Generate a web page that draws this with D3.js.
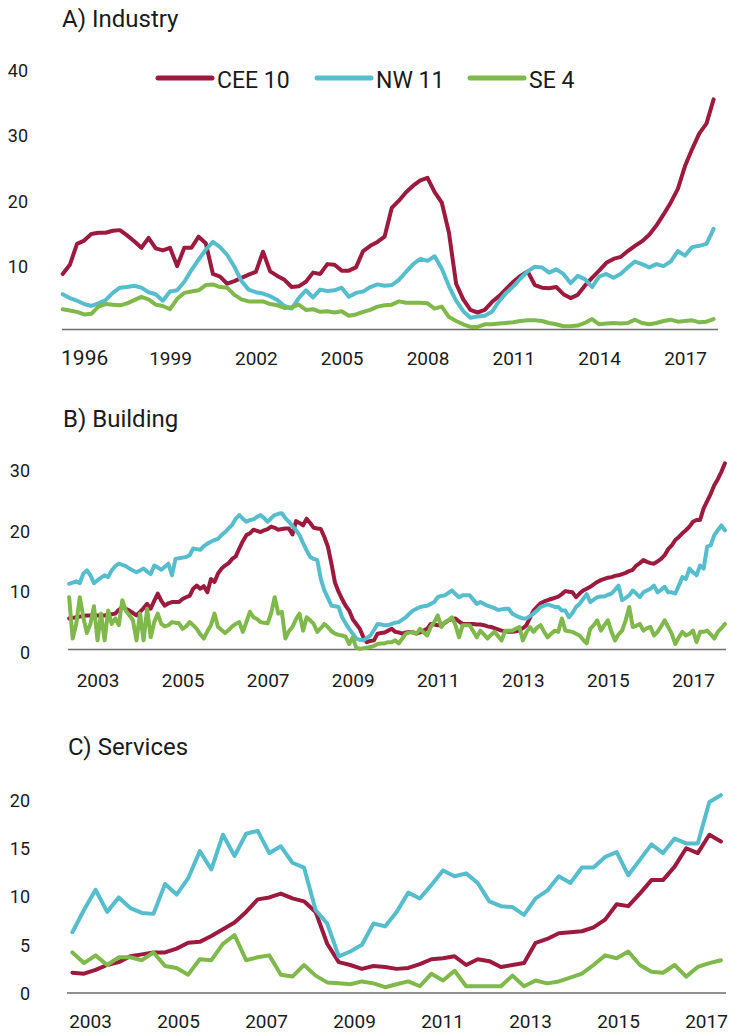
<!DOCTYPE html>
<html>
<head>
<meta charset="utf-8">
<script src="https://cdn.jsdelivr.net/npm/d3@7"></script>
<style>
  body { margin: 0; background: #fff; }
  svg text { font-family: Roboto, "Open Sans", sans-serif; fill: #1a1a1a; }
</style>
</head>
<body>
<svg id="chart" width="730" height="1032"></svg>
<script>
// series names and colours (same order everywhere)
const seriesNames  = ["CEE 10", "NW 11", "SE 4"];
const seriesColors = ["#9c1a3e", "#55bdcc", "#7fb84b"];

// A) Industry: quarterly, 1995 Q2 .. 2018 Q1
const industryStart = 1995.25;
const industryCEE = [8.5, 9.9, 13.1, 13.6, 14.6, 14.8, 14.8, 15.1, 15.2, 14.4, 13.5, 12.5, 14.0, 12.4, 12.1, 12.5,
  9.7, 12.5, 12.5, 14.2, 13.2, 8.5, 8.1, 7.0, 7.4, 7.9, 8.4, 8.8, 11.9, 8.9, 8.2, 7.6, 6.5, 6.6, 7.3, 8.7, 8.5,
  10.0, 9.9, 9.0, 9.0, 9.5, 12.0, 12.8, 13.4, 14.2, 18.6, 19.7, 21.0, 22.0, 22.8, 23.2, 21.0, 19.4, 14.8, 7.0,
  4.6, 3.0, 2.6, 3.0, 4.2, 5.1, 6.2, 7.3, 8.2, 8.9, 6.8, 6.4, 6.3, 6.5, 5.4, 4.8, 5.3, 6.7, 7.9, 9.0, 10.2, 10.8,
  11.1, 12.0, 12.8, 13.5, 14.5, 15.9, 17.6, 19.4, 21.5, 25.0, 27.6, 30.0, 31.5, 35.2];
const industryNW = [5.4, 4.8, 4.4, 3.9, 3.6, 4.0, 4.5, 5.6, 6.4, 6.5, 6.7, 6.4, 5.7, 5.4, 4.4, 5.8, 6.0, 7.3, 9.1,
  10.7, 12.2, 13.4, 12.6, 11.4, 9.6, 7.4, 6.1, 5.7, 5.5, 5.1, 4.5, 3.6, 3.2, 4.8, 6.0, 4.9, 6.1, 5.9, 6.0, 6.4,
  5.0, 5.6, 5.8, 6.5, 6.9, 6.7, 6.8, 7.6, 8.8, 10.0, 10.8, 10.5, 11.2, 9.3, 6.6, 4.4, 2.8, 1.8, 2.0, 2.1, 2.7,
  4.3, 5.6, 6.6, 7.8, 8.9, 9.6, 9.5, 8.7, 9.2, 8.5, 7.1, 8.2, 7.7, 6.5, 8.1, 8.5, 7.9, 8.5, 9.5, 10.4, 10.0, 9.5,
  10.0, 9.7, 10.4, 12.0, 11.3, 12.6, 12.8, 13.1, 15.4];
const industrySE = [3.1, 2.9, 2.7, 2.3, 2.4, 3.5, 3.9, 3.8, 3.7, 4.0, 4.5, 5.0, 4.6, 3.8, 3.6, 3.1, 4.7, 5.6, 5.8,
  6.0, 6.8, 6.9, 6.5, 6.4, 5.3, 4.6, 4.3, 4.3, 4.3, 3.9, 3.7, 3.3, 3.4, 3.8, 3.0, 3.1, 2.7, 2.8, 2.6, 2.8, 2.1,
  2.3, 2.7, 3.0, 3.5, 3.7, 3.8, 4.3, 4.1, 4.1, 4.1, 4.0, 3.2, 3.5, 1.9, 1.3, 0.8, 0.4, 0.4, 0.8, 0.8, 0.9, 1.0,
  1.1, 1.3, 1.4, 1.4, 1.3, 1.0, 0.8, 0.5, 0.5, 0.6, 1.0, 1.6, 0.8, 0.9, 1.0, 0.9, 1.0, 1.5, 1.0, 0.8, 1.0, 1.3,
  1.5, 1.2, 1.3, 1.4, 1.1, 1.2, 1.6];
const industryYears = [1996, 1999, 2002, 2005, 2008, 2011, 2014, 2017];
const industryTicks = [10, 20, 30, 40];

// B) Building: monthly, May 2002 .. Oct 2017
const buildingStart = 2002 + 4 / 12;
const buildingCEE = [
  5.1, 5.2, 5.3, 5.4, 5.5, 5.6, 5.6, 5.6,
  5.6, 5.6, 5.6, 5.7, 5.8, 5.9, 6.5, 7.0, 6.7, 6.4, 6.0, 5.6,
  6.2, 6.8, 7.5, 6.7, 8.0, 9.2, 8.0, 7.2, 7.6, 7.8, 7.8, 7.8,
  8.3, 8.6, 8.8, 10.0, 10.5, 10.0, 10.4, 9.4, 11.6, 11.1, 12.5, 13.3,
  13.8, 14.2, 14.9, 15.3, 16.6, 17.8, 18.8, 19.1, 19.7, 19.5, 19.3, 19.6,
  19.8, 20.2, 20.0, 19.7, 19.8, 19.9, 19.9, 18.9, 21.1, 20.8, 20.4, 21.5,
  20.8, 20.0, 19.9, 19.8, 18.5, 16.9, 14.1, 11.0, 9.5, 8.3, 7.2, 6.4,
  5.0, 4.2, 3.4, 2.0, 1.2, 1.4, 1.5, 2.6, 2.7, 2.8, 3.1, 3.4,
  2.9, 2.8, 2.6, 2.8, 2.9, 2.8, 2.6, 2.8, 3.1, 3.4, 4.2, 4.1,
  4.0, 4.0, 4.4, 4.8, 5.0, 5.1, 4.6, 4.2, 4.2, 4.2, 4.2, 4.1,
  4.1, 4.0, 3.8, 3.7, 3.5, 3.3, 3.1, 3.0, 2.9, 2.9, 3.0, 3.1,
  3.5, 4.0, 5.2, 6.4, 7.0, 7.6, 7.9, 8.1, 8.3, 8.5, 8.7, 9.1,
  9.6, 9.5, 9.4, 8.6, 9.2, 9.7, 10.0, 10.3, 10.7, 11.1, 11.4, 11.6,
  11.8, 11.9, 12.1, 12.2, 12.4, 12.6, 12.9, 13.1, 13.8, 14.2, 14.7, 14.4,
  14.2, 14.1, 14.5, 14.9, 15.5, 16.5, 17.1, 18.0, 18.5, 19.1, 19.6, 20.2,
  21.0, 21.3, 21.3, 23.2, 24.4, 25.6, 27.0, 28.0, 29.2, 30.6];
const buildingNW = [
  10.8, 11.0, 11.2, 10.9, 12.5, 13.0, 12.2, 10.9,
  11.4, 11.8, 12.2, 11.9, 13.0, 13.7, 14.1, 13.9, 13.7, 13.3, 13.0, 12.7,
  13.0, 13.3, 12.8, 12.4, 13.8, 13.5, 13.1, 13.6, 14.1, 12.2, 14.9, 15.0,
  15.1, 15.2, 15.5, 16.6, 16.5, 16.4, 17.0, 17.4, 17.7, 18.0, 18.2, 18.8,
  19.3, 19.9, 20.5, 21.5, 22.1, 21.5, 21.0, 21.3, 21.4, 21.8, 22.1, 21.6,
  21.0, 21.6, 22.1, 22.3, 22.4, 21.6, 21.0, 20.3, 19.6, 18.8, 17.5, 16.3,
  15.2, 14.9, 14.7, 11.6, 9.7, 8.5, 7.2, 7.1, 7.0, 5.3, 4.3, 3.4,
  2.6, 1.8, 1.6, 1.5, 1.9, 2.3, 3.2, 4.2, 4.1, 4.0, 4.0, 4.2,
  4.4, 4.5, 4.9, 5.3, 5.9, 6.4, 6.7, 7.0, 7.1, 7.2, 7.5, 7.8,
  8.6, 8.8, 8.9, 9.3, 9.7, 9.1, 8.6, 8.9, 8.9, 8.9, 8.2, 7.5,
  7.8, 7.5, 7.2, 7.0, 6.8, 6.5, 6.6, 6.7, 6.7, 5.9, 5.6, 5.3,
  5.1, 5.1, 5.5, 5.9, 6.4, 7.0, 7.2, 7.4, 7.2, 7.0, 7.0, 6.4,
  6.4, 5.3, 6.0, 7.0, 7.5, 8.3, 9.1, 7.8, 8.2, 8.6, 8.7, 8.7,
  9.0, 9.2, 9.8, 10.5, 8.1, 8.5, 8.9, 9.7, 9.2, 8.6, 9.4, 9.7,
  10.0, 10.5, 9.4, 9.8, 10.3, 9.4, 9.4, 9.2, 10.5, 11.9, 11.6, 13.3,
  12.7, 12.2, 13.8, 13.3, 16.9, 17.1, 18.8, 19.6, 20.4, 19.6];
const buildingSE = [
  8.6, 1.8, 4.2, 8.6, 5.3, 2.7, 4.2, 7.1,
  1.5, 5.9, 1.5, 6.4, 4.2, 5.1, 4.0, 8.1, 6.4, 5.6, 4.8, 1.5,
  5.9, 1.5, 6.7, 2.0, 4.5, 5.9, 4.2, 3.8, 4.0, 4.5, 4.4, 4.3,
  3.4, 3.8, 4.5, 4.0, 3.4, 2.5, 1.8, 3.0, 4.0, 5.9, 3.7, 3.2,
  2.7, 3.2, 3.8, 4.2, 4.5, 2.9, 4.5, 6.2, 5.3, 5.0, 4.5, 4.4,
  4.3, 6.0, 8.6, 5.9, 6.2, 1.8, 3.0, 3.7, 5.0, 5.9, 3.1, 5.3,
  4.8, 4.2, 2.9, 3.5, 4.2, 3.7, 3.0, 2.6, 2.4, 2.3, 2.1, 0.9,
  2.0, 0.3, 0.1, 0.2, 0.3, 0.4, 0.6, 0.9, 1.0, 1.0, 1.2, 1.2,
  1.5, 1.0, 1.8, 2.6, 2.8, 2.9, 2.6, 3.4, 2.8, 2.3, 3.7, 4.5,
  5.6, 3.7, 4.5, 4.8, 5.3, 4.0, 2.0, 4.0, 4.0, 4.0, 3.0, 2.0,
  3.1, 2.5, 1.8, 2.4, 2.9, 2.2, 1.5, 3.1, 3.1, 3.1, 3.4, 3.7,
  1.5, 2.8, 3.7, 2.9, 3.6, 4.0, 2.9, 2.0, 2.6, 3.1, 2.9, 5.1,
  3.1, 3.0, 2.9, 2.6, 2.3, 1.6, 1.0, 3.4, 4.0, 4.8, 3.1, 4.0,
  4.8, 2.9, 1.5, 2.5, 3.1, 4.8, 7.0, 3.7, 3.9, 4.2, 3.1, 3.5,
  3.7, 2.3, 2.9, 3.8, 4.8, 3.7, 2.6, 0.9, 2.0, 2.9, 2.3, 2.6,
  3.1, 1.2, 2.9, 2.9, 3.1, 2.5, 1.8, 2.9, 3.5, 4.2];
const buildingYears = [2003, 2005, 2007, 2009, 2011, 2013, 2015, 2017];
const buildingTicks = [0, 10, 20, 30];

// C) Services: 57 observations, evenly spaced from mid-2002 to early 2017
const servicesStart = 2002.6;
const servicesStep = 0.2632;
const servicesCEE = [2.1, 2.0, 2.4, 2.9, 3.2, 3.8, 4.0, 4.2, 4.2, 4.6, 5.2, 5.3, 5.9, 6.6, 7.3, 8.4, 9.7, 9.9,
  10.3, 9.8, 9.5, 8.4, 5.1, 3.2, 2.9, 2.5, 2.8, 2.7, 2.5, 2.6, 3.0, 3.5, 3.6, 3.8, 2.9, 3.5, 3.3, 2.7, 2.9,
  3.1, 5.2, 5.6, 6.2, 6.3, 6.4, 6.8, 7.6, 9.2, 9.0, 10.3, 11.7, 11.7, 13.1, 15.0, 14.5, 16.4, 15.7];
const servicesNW = [6.3, 8.6, 10.7, 8.4, 9.9, 8.8, 8.3, 8.2, 11.3, 10.2, 11.9, 14.7, 12.8, 16.4, 14.2, 16.5, 16.8,
  14.5, 15.2, 13.5, 13.0, 8.6, 7.2, 3.8, 4.3, 5.0, 7.2, 6.9, 8.4, 10.4, 9.8, 11.2, 12.7, 12.1, 12.4, 11.4, 9.5,
  9.0, 8.9, 8.1, 9.8, 10.6, 12.1, 11.4, 13.0, 13.0, 14.1, 14.6, 12.2, 13.8, 15.4, 14.5, 16.0, 15.5, 15.5, 19.8, 20.5];
const servicesSE = [4.2, 3.1, 3.9, 2.9, 3.7, 3.7, 3.4, 4.2, 2.8, 2.6, 1.9, 3.5, 3.4, 5.1, 6.0, 3.4, 3.7, 3.9, 1.9,
  1.7, 2.9, 1.8, 1.1, 1.0, 0.9, 1.2, 1.0, 0.6, 0.9, 1.2, 0.7, 2.0, 1.3, 2.3, 0.7, 0.7, 0.7, 0.7, 1.8, 0.7, 1.3,
  1.0, 1.2, 1.6, 2.0, 2.9, 3.9, 3.6, 4.3, 2.9, 2.2, 2.1, 2.9, 1.7, 2.7, 3.1, 3.4];
const servicesYears = [2003, 2005, 2007, 2009, 2011, 2013, 2015, 2017];
const servicesTicks = [0, 5, 10, 15, 20];


const svg = d3.select("#chart");

// pair each value with its time
function toPoints(values, start, step) {
  return values.map((v, i) => [start + i * step, v]);
}

function drawPanel(p) {
  const g = svg.append("g");

  g.append("text")
    .attr("x", p.titleX)
    .attr("y", p.titleY)
    .attr("font-size", 24)
    .text(p.title);

  // value labels on the left, no tick marks
  g.append("g")
    .attr("transform", `translate(${p.yLabelX},${p.yLabelDy})`)
    .call(d3.axisLeft(p.y).tickValues(p.yTicks).tickSize(0).tickPadding(0))
    .attr("font-size", 18)
    .call(a => a.select(".domain").remove());

  // zero line
  g.append("line")
    .attr("x1", p.axisX[0]).attr("x2", p.axisX[1])
    .attr("y1", p.y(0)).attr("y2", p.y(0))
    .attr("stroke", "#6b6b6b")
    .attr("stroke-width", 1.4);

  // year labels
  const xa = g.append("g")
    .attr("transform", `translate(0,${p.xLabelY})`)
    .call(d3.axisBottom(p.x).tickValues(p.years).tickFormat(d3.format("d")).tickSize(0))
    .attr("font-size", 19)
    .call(a => a.select(".domain").remove());
  xa.selectAll("text").attr("y", 0).attr("dy", 0);
  if (p.firstYearSize) {
    xa.selectAll("text").filter((d, i) => i === 0).attr("font-size", p.firstYearSize);
  }

  const line = d3.line()
    .x(d => p.x(d[0]))
    .y(d => p.y(d[1]));

  g.selectAll("path.series")
    .data(p.series)
    .enter()
    .append("path")
    .attr("class", "series")
    .attr("d", d => line(d))
    .attr("fill", "none")
    .attr("stroke", (d, i) => seriesColors[i])
    .attr("stroke-width", 4)
    .attr("stroke-linejoin", "round")
    .attr("stroke-linecap", "round");

  return g;
}

// A) Industry
const panelA = drawPanel({
  title: "A) Industry", titleX: 62, titleY: 27,
  x: d3.scaleLinear().domain([1999, 2017]).range([170, 685]),
  y: d3.scaleLinear().domain([0, 40]).range([329.5, 68]),
  yTicks: industryTicks, yLabelX: 28, yLabelDy: 2.5,
  years: industryYears, xLabelY: 365, firstYearSize: 21,
  axisX: [62, 718],
  series: [industryCEE, industryNW, industrySE].map(s => toPoints(s, industryStart, 0.25))
});

// legend inside panel A
const legend = panelA.append("g")
  .selectAll("g")
  .data(seriesNames)
  .enter()
  .append("g")
  .attr("transform", (d, i) => `translate(${[158, 317, 470][i]},78)`);

legend.append("line")
  .attr("x1", 0).attr("x2", 54)
  .attr("stroke", (d, i) => seriesColors[i])
  .attr("stroke-width", 5)
  .attr("stroke-linecap", "round");

legend.append("text")
  .attr("x", 59)
  .attr("y", 10)
  .attr("font-size", 23)
  .text(d => d);

// B) Building
drawPanel({
  title: "B) Building", titleX: 63, titleY: 427,
  x: d3.scaleLinear().domain([2003, 2017]).range([97.5, 693]),
  y: d3.scaleLinear().domain([0, 30]).range([649.5, 467]),
  yTicks: buildingTicks, yLabelX: 30, yLabelDy: 3.5,
  years: buildingYears, xLabelY: 687,
  axisX: [68, 726],
  series: [buildingCEE, buildingNW, buildingSE].map(s => toPoints(s, buildingStart, 1 / 12))
});

// C) Services
drawPanel({
  title: "C) Services", titleX: 68, titleY: 755,
  x: d3.scaleLinear().domain([2003, 2017]).range([90, 706]),
  y: d3.scaleLinear().domain([0, 20]).range([993, 800]),
  yTicks: servicesTicks, yLabelX: 30, yLabelDy: 0.5,
  years: servicesYears, xLabelY: 1028,
  axisX: [67, 726],
  series: [servicesCEE, servicesNW, servicesSE].map(s => toPoints(s, servicesStart, servicesStep))
});
</script>
</body>
</html>
